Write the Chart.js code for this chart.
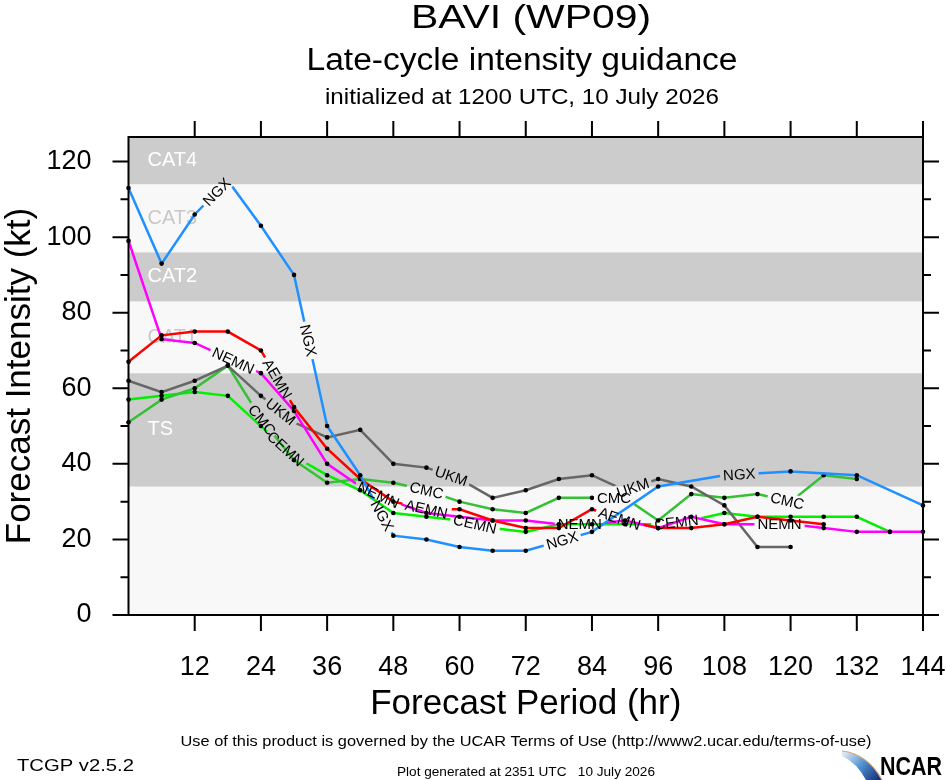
<!DOCTYPE html>
<html>
<head>
<meta charset="utf-8">
<title>BAVI (WP09) - Late-cycle intensity guidance</title>
<script src="https://cdn.jsdelivr.net/npm/chart.js@4.4.1/dist/chart.umd.min.js"></script>
<style>
  html, body { margin: 0; padding: 0; background: #ffffff; }
  #wrap { width: 946px; height: 780px; }
</style>
</head>
<body>
<div id="wrap"><canvas id="chart" width="946" height="780"></canvas></div>
<script>
const FONT = "'Liberation Sans', Arial, Helvetica, sans-serif";

// --- date: ore de prognoza (la 6 h) si intensitati (kt) ---
const hours = [0, 6, 12, 18, 24, 30, 36, 42, 48, 54, 60, 66, 72, 78, 84, 90, 96, 102, 108, 114, 120, 126, 132, 138, 144];
const ngx  = [113, 93, 106, 115, 103, 90, 50, 37, 21, 20, 18, 17, 17, null, 22, null, 34, null, 37, null, 38, null, 37, null, 29];
const aemn = [67, 74, 75, 75, 70, 55, 44, 36, 30, 28, 28, 25, 23, 23, 28, 25, 23, 23, 24, 26, 25, 24, null, null, null];
const nemn = [99, 73, 72, 68, 64, 54, 40, 34, 30, 27, 26, 25, 25, 24, 24, 25, 23, 26, 24, 24, 24, 23, 22, 22, 22];
const ukm  = [62, 59, 62, 66, 58, 51, 47, 49, 40, 39, 36, 31, 33, 36, 37, 33, 36, 34, 29, 18, 18, null, null, null, null];
const cmc  = [51, 57, 60, 66, 52, 41, 35, 36, 35, 33, 30, 28, 27, 31, 31, 31, 25, 32, 31, 32, 30, 37, 36, null, null];
const cemn = [57, 58, 59, 58, 50, 42, 37, 33, 27, 26, 25, 23, 22, 24, 24, 24, 24, 25, 27, 26, 26, 26, 26, 22, null];

const modelNames  = ['NGX', 'AEMN', 'NEMN', 'UKM', 'CMC', 'CEMN'];
const modelColors = ['#1e90ff', '#ff0000', '#ff00ff', '#666666', '#35c035', '#00f000'];
const series = [ngx, aemn, nemn, ukm, cmc, cemn];

// unde stau etichetele pe linii (ora)
const ngxLabels  = [16, 32.6, 46, 78.6, 110.7];
const aemnLabels = [27, 54, 89];
const nemnLabels = [19, 45.3, 81.8, 118];
const ukmLabels  = [27.6, 58.5, 91.4];
const cmcLabels  = [24.2, 54, 88, 119.4];
const cemnLabels = [28.5, 62.8, 99.3];
const labelHours = [ngxLabels, aemnLabels, nemnLabels, ukmLabels, cmcLabels, cemnLabels];

// benzi Saffir-Simpson
const bandNames = ['TS', 'CAT1', 'CAT2', 'CAT3', 'CAT4'];
const bandFrom  = [34, 64, 83, 96, 114];
const bandTo    = [64, 83, 96, 114, 126.5];

// axe
const xTickHours  = [12, 24, 36, 48, 60, 72, 84, 96, 108, 120, 132, 144];
const yTickValues = [0, 20, 40, 60, 80, 100, 120];

const GRAY = '#cccccc';
const LIGHT = '#f8f8f8';
const labelFont = '15px ' + FONT;

function seriesPoints(vals) {
    return hours.map((h, i) => ({ x: h, y: vals[i] })).filter(p => p.y !== null);
}

// pozitia si unghiul fiecarei etichete, luate de pe segmentul liniei
function labelBoxes(chart, idx) {
    const xs = chart.scales.x, ys = chart.scales.y;
    const pts = seriesPoints(series[idx]);
    const ctx = chart.ctx;
    ctx.save();
    ctx.font = labelFont;
    const w = ctx.measureText(modelNames[idx]).width;
    ctx.restore();
    return labelHours[idx].map(h => {
        let k = 0;
        while (k < pts.length - 2 && pts[k + 1].x < h) k++;
        const a = pts[k], b = pts[k + 1];
        const v = a.y + (b.y - a.y) * (h - a.x) / (b.x - a.x);
        const ax = xs.getPixelForValue(a.x), ay = ys.getPixelForValue(a.y);
        const bx = xs.getPixelForValue(b.x), by = ys.getPixelForValue(b.y);
        return {
            cx: xs.getPixelForValue(h), cy: ys.getPixelForValue(v),
            ang: Math.atan2(by - ay, bx - ax), hw: w / 2 + 3, hh: 7.5
        };
    });
}

function drawText(ctx, text, x, y, size, width, opts) {
    opts = opts || {};
    ctx.save();
    ctx.font = (opts.bold ? 'bold ' : '') + size + 'px ' + FONT;
    ctx.fillStyle = opts.color || '#000';
    ctx.textBaseline = 'middle';
    ctx.textAlign = opts.align || 'center';
    const sx = width ? width / ctx.measureText(text).width : 1;
    ctx.translate(x, y);
    ctx.scale(sx, 1);
    ctx.fillText(text, 0, 0);
    ctx.restore();
}

const decor = {
    id: 'decor',
    beforeDatasetsDraw(chart) {
        const { ctx, chartArea: a } = chart;
        const ys = chart.scales.y;
        ctx.save();
        ctx.fillStyle = LIGHT;
        ctx.fillRect(a.left, a.top, a.right - a.left, a.bottom - a.top);
        bandNames.forEach((name, i) => {
            const y1 = ys.getPixelForValue(bandTo[i]);
            const y0 = ys.getPixelForValue(bandFrom[i]);
            const dark = i % 2 === 0;
            ctx.fillStyle = dark ? GRAY : LIGHT;
            ctx.fillRect(a.left, y1, a.right - a.left, y0 - y1);
            drawText(ctx, name, a.left + 19, (y0 + y1) / 2, 20, 0,
                { align: 'left', color: dark ? '#ffffff' : '#c8c8c8' });
        });
        ctx.restore();
    },
    // taiem linia acolo unde sta eticheta
    beforeDatasetDraw(chart, args) {
        const ctx = chart.ctx;
        ctx.save();
        ctx.beginPath();
        ctx.rect(0, 0, chart.width, chart.height);
        labelBoxes(chart, args.index).forEach(b => {
            const c = Math.cos(b.ang), s = Math.sin(b.ang);
            [[-b.hw, -b.hh], [b.hw, -b.hh], [b.hw, b.hh], [-b.hw, b.hh]].forEach(([u, v], j) => {
                const px = b.cx + u * c - v * s, py = b.cy + u * s + v * c;
                if (j === 0) ctx.moveTo(px, py); else ctx.lineTo(px, py);
            });
            ctx.closePath();
        });
        ctx.clip('evenodd');
    },
    afterDatasetDraw(chart) {
        chart.ctx.restore();
    },
    afterDatasetsDraw(chart) {
        const { ctx, chartArea: a } = chart;
        const xs = chart.scales.x, ys = chart.scales.y;

        // etichetele modelelor
        series.forEach((s, idx) => {
            labelBoxes(chart, idx).forEach(b => {
                ctx.save();
                ctx.translate(b.cx, b.cy);
                ctx.rotate(b.ang);
                ctx.font = labelFont;
                ctx.fillStyle = '#000';
                ctx.textAlign = 'center';
                ctx.textBaseline = 'middle';
                ctx.fillText(modelNames[idx], 0, 1);
                ctx.restore();
            });
        });

        // rama + tick-uri pe toate laturile
        ctx.save();
        ctx.strokeStyle = '#000';
        ctx.lineWidth = 2;
        ctx.strokeRect(a.left, a.top, a.right - a.left, a.bottom - a.top);
        ctx.beginPath();
        yTickValues.forEach((v, i) => {
            const y = ys.getPixelForValue(v);
            ctx.moveTo(a.left - 16, y); ctx.lineTo(a.left, y);
            ctx.moveTo(a.right, y); ctx.lineTo(a.right + 16, y);
            if (i < yTickValues.length - 1) {
                const ym = ys.getPixelForValue((v + yTickValues[i + 1]) / 2);
                ctx.moveTo(a.left - 8, ym); ctx.lineTo(a.left, ym);
                ctx.moveTo(a.right, ym); ctx.lineTo(a.right + 8, ym);
            }
        });
        xTickHours.forEach(h => {
            const x = xs.getPixelForValue(h);
            ctx.moveTo(x, a.bottom); ctx.lineTo(x, a.bottom + 16);
            ctx.moveTo(x, a.top - 16); ctx.lineTo(x, a.top);
        });
        ctx.stroke();
        ctx.restore();
    },
    afterDraw(chart) {
        const ctx = chart.ctx;
        // titluri
        drawText(ctx, 'BAVI (WP09)', 531, 19, 34, 240);
        drawText(ctx, 'Late-cycle intensity guidance', 522, 61, 31, 431);
        drawText(ctx, 'initialized at 1200 UTC, 10 July 2026', 522, 98, 22, 394);
        // subsol
        drawText(ctx, 'Use of this product is governed by the UCAR Terms of Use (http://www2.ucar.edu/terms-of-use)', 526, 742, 15, 691);
        drawText(ctx, 'TCGP v2.5.2', 17, 766, 17, 117, { align: 'left' });
        drawText(ctx, 'Plot generated at 2351 UTC   10 July 2026', 526, 772, 13, 258);

        // logo NCAR
        ctx.save();
        const g = ctx.createLinearGradient(845, 752, 878, 780);
        g.addColorStop(0, '#dbe9f7');
        g.addColorStop(0.5, '#4f8fd0');
        g.addColorStop(1, '#14327a');
        ctx.beginPath();
        ctx.moveTo(842, 751);
        ctx.quadraticCurveTo(868, 754, 882, 780);
        ctx.lineTo(866, 780);
        ctx.quadraticCurveTo(857, 763, 842, 756);
        ctx.closePath();
        ctx.fillStyle = g;
        ctx.fill();
        ctx.beginPath();
        ctx.moveTo(842, 751);
        ctx.quadraticCurveTo(868, 754, 882, 780);
        ctx.strokeStyle = '#e0a46a';
        ctx.lineWidth = 1.2;
        ctx.stroke();
        ctx.restore();
        drawText(ctx, 'NCAR', 880, 768, 25, 62, { align: 'left', bold: true });
    }
};

document.addEventListener('DOMContentLoaded', function () {
    const ctx = document.getElementById('chart').getContext('2d');

    const datasets = series.map((vals, i) => ({
        label: modelNames[i],
        data: seriesPoints(vals),
        borderColor: modelColors[i],
        backgroundColor: modelColors[i],
        borderWidth: 2.5,
        pointRadius: 2.3,
        pointBorderWidth: 0,
        pointBackgroundColor: '#000',
        tension: 0,
        clip: false
    }));

    // tick-urile le desenam noi; tickLength doar face loc pentru etichete
    new Chart(ctx, {
        type: 'line',
        data: { datasets: datasets },
        options: {
            responsive: false,
            animation: false,
            devicePixelRatio: 1,
            layout: { padding: { top: 137, right: 23, bottom: 55, left: 0 } },
            plugins: {
                legend: { display: false },
                tooltip: { enabled: false },
                title: { display: false }
            },
            scales: {
                x: {
                    type: 'linear',
                    min: 0,
                    max: 144,
                    grid: { display: false, drawTicks: true, tickLength: 36 },
                    border: { display: false },
                    afterBuildTicks: s => { s.ticks = xTickHours.map(v => ({ value: v })); },
                    afterFit: s => { s.height = 110; },
                    ticks: {
                        font: { family: FONT, size: 27 },
                        color: '#000',
                        padding: 0,
                        maxRotation: 0,
                        autoSkip: false
                    },
                    title: {
                        display: true,
                        text: 'Forecast Period (hr)',
                        font: { family: FONT, size: 35, lineHeight: 1.2 },
                        color: '#000',
                        padding: 0
                    }
                },
                y: {
                    type: 'linear',
                    min: 0,
                    max: 126.5,
                    grid: { display: false, drawTicks: true, tickLength: 37 },
                    border: { display: false },
                    afterBuildTicks: s => { s.ticks = yTickValues.map(v => ({ value: v })); },
                    afterFit: s => { s.width = 128.5; },
                    ticks: {
                        font: { family: FONT, size: 27 },
                        color: '#000',
                        padding: 0
                    },
                    title: {
                        display: true,
                        text: 'Forecast Intensity (kt)',
                        font: { family: FONT, size: 35, lineHeight: 1.15 },
                        color: '#000',
                        padding: 0
                    }
                }
            }
        },
        plugins: [decor]
    });
});
</script>
</body>
</html>
